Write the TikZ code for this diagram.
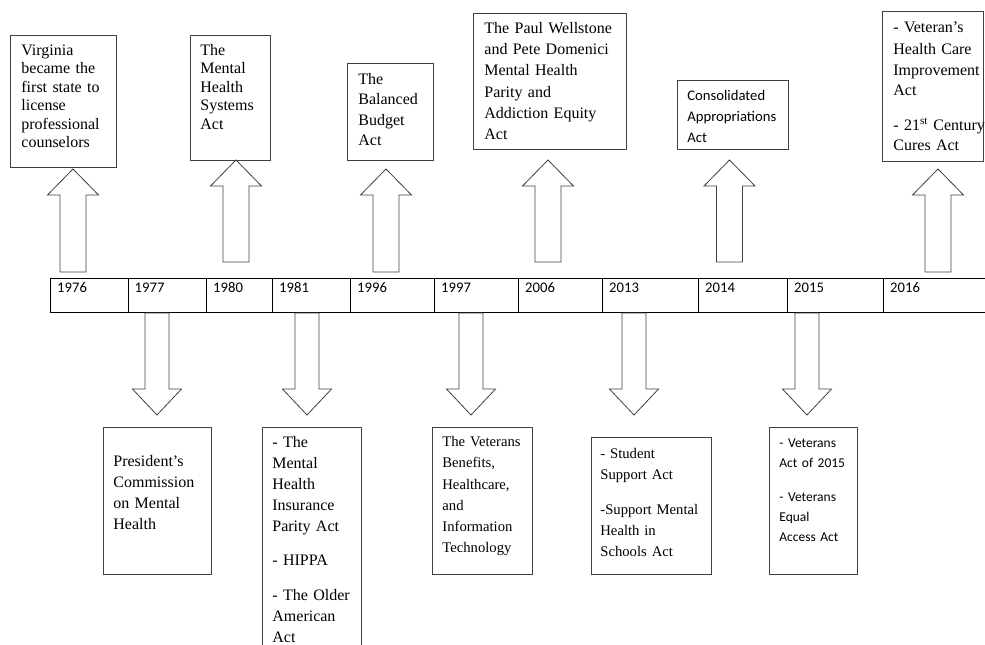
\documentclass[tikz,border=0pt]{standalone}
\usepackage{fontspec}
\setmainfont{Liberation Serif}
\newfontfamily\calibri{Carlito}
\usetikzlibrary{positioning}
\hyphenpenalty=10000

\newcommand{\arrup}[3]{\draw[blockarr] (#1-13,#2) -- (#1-13,#3+26) -- (#1-25.5,#3+26) -- (#1,#3) -- (#1+25.5,#3+26) -- (#1+13,#3+26) -- (#1+13,#2) -- cycle;}
\newcommand{\arrdown}[3]{\draw[blockarr] (#1-12,#2) -- (#1-12,#3-26) -- (#1-24.5,#3-26) -- (#1,#3) -- (#1+24.5,#3-26) -- (#1+12,#3-26) -- (#1+12,#2) -- cycle;}

\begin{document}
\begin{tikzpicture}[x=1pt,y=-1pt,{yearcell/.style={draw=black,line width=1.1pt,minimum height=34.5,inner sep=0,anchor=north west}},{yeartxt/.style={anchor=base west,inner sep=0,font=\calibri\fontsize{14.67}{17}\selectfont}},{evbox/.style={draw=black!75,line width=0.8pt,anchor=north west,inner ysep=0,align=left}},{blockarr/.style={draw=black!75,line width=0.8pt}},{tnr/.style={font=\fontsize{16}{#1}\selectfont}},{tnrs/.style={font=\fontsize{14.67}{#1}\selectfont}},{cal/.style={font=\calibri\fontsize{14.67}{21}\selectfont}},{cals/.style={font=\calibri\fontsize{13.5}{20}\selectfont}}]
	\useasboundingbox (0,0) rectangle (985,645);
	%%timeline
	\foreach \yr/\xa/\xb in {1976/50/127.5,1977/127.5/206,1980/206/272,1981/272/350,1996/350/434,1997/434/518,2006/518/602,2013/602/698,2014/698/787,2015/787/883,2016/883/990}{
		\node[yearcell,minimum width=\xb-\xa] (c\yr) at (\xa,277.5) {};
		\node[yeartxt] (t\yr) at (\xa+7,292.5) {\yr};
	}
	%%events above
	\node[evbox,tnr=18.5,text width=84pt,inner xsep=11pt,text height=20pt,text depth=112pt] (bVirginia) at (10,35) {Virginia\\became the\\first state to\\license\\professional\\counselors};
	\node[evbox,tnr=18.5,text width=60pt,inner xsep=10pt,text height=20pt,text depth=105pt] (bSystems) at (190,35) {The\\Mental\\Health\\Systems\\Act};
	\node[evbox,tnr=20.3,text width=64pt,inner xsep=11pt,text height=21pt,text depth=76pt] (bBudget) at (347,63) {The\\Balanced\\Budget\\Act};
	\node[evbox,tnr=21.2,text width=131pt,inner xsep=11pt,text height=20pt,text depth=116pt] (bParity) at (473,13) {The Paul Wellstone\\and Pete Domenici\\Mental Health\\Parity and\\Addiction Equity\\Act};
	\node[evbox,cal,text width=91pt,inner xsep=10pt,text height=20pt,text depth=49pt] (bApprop) at (677,80) {Consolidated\\Appropriations\\Act};
	\node[evbox,tnr=20.5,text width=79pt,inner xsep=11pt,text height=21pt,text depth=129pt] (bCures) at (882,11) {\mbox{- Veteran's}\\[2pt]\mbox{Health Care}\\Improvement\\Act\\[14pt]\mbox{- 21\textsuperscript{st} Century}\\\mbox{Cures Act}};
	%%events below
	\node[evbox,tnr=21,text width=88pt,inner xsep=10pt,text height=39pt,text depth=108pt] (bCommission) at (103,427) {President's\\Commission\\on Mental\\Health};
	\node[evbox,tnr=21.1,text width=79pt,inner xsep=10pt,text height=20pt,text depth=223pt] (bOlder) at (262,427) {- The\\Mental\\Health\\Insurance\\\mbox{Parity Act}\\[13pt]- HIPPA\\[13pt]\mbox{- The Older}\\American\\Act};
	\node[evbox,tnrs=21.3,text width=80pt,inner xsep=10pt,text height=19pt,text depth=128pt] (bVeterans) at (432,427) {\mbox{The Veterans}\\Benefits,\\Healthcare,\\and\\Information\\Technology};
	\node[evbox,tnrs=21.3,text width=102pt,inner xsep=9pt,text height=21pt,text depth=116pt] (bSchools) at (591,437) {- Student\\Support Act\\[13pt]\mbox{-Support Mental}\\Health in\\Schools Act};
	\node[evbox,cals,text width=68pt,inner xsep=10pt,text height=20pt,text depth=127pt] (bEqual) at (769,427) {- Veterans\\Act of 2015\\[14pt]- Veterans\\Equal\\Access Act};
	%%arrows
	\arrup{73}{272}{169}
	\arrup{236}{262}{160}
	\arrup{386}{272}{169}
	\arrup{548}{262}{160}
	\arrup{729.5}{262}{160}
	\arrup{938}{272}{169}
	\arrdown{157}{313}{415}
	\arrdown{307}{313}{415}
	\arrdown{471}{313}{415}
	\arrdown{634}{313}{415}
	\arrdown{807}{313}{415}
\end{tikzpicture}
\end{document}
